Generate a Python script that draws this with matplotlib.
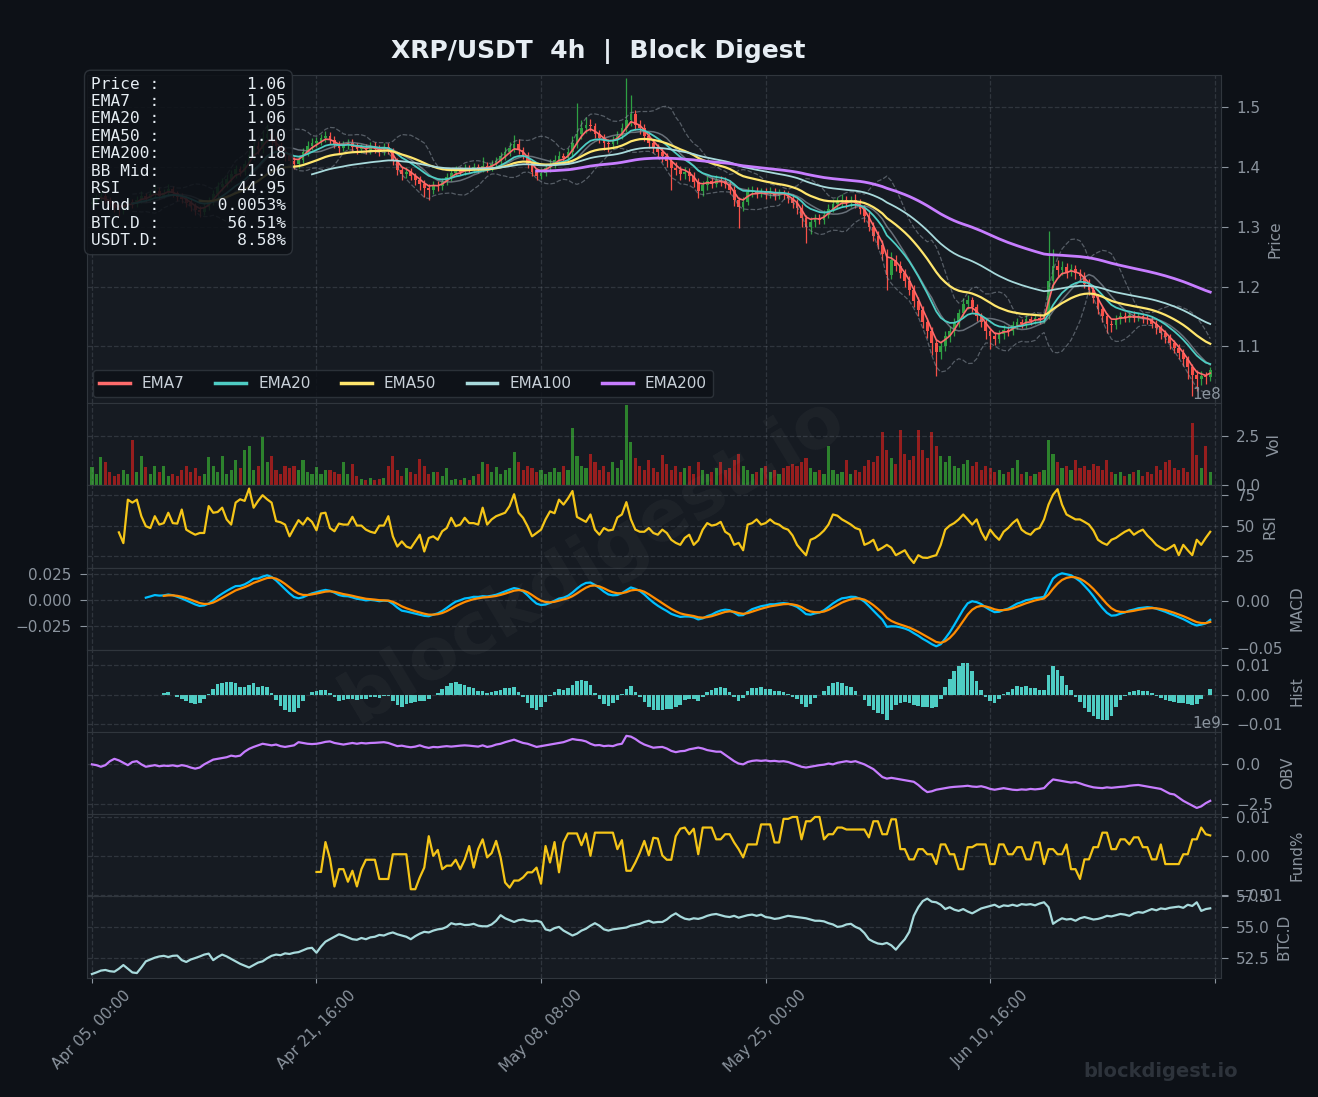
"""
XRP/USDT multi-panel indicator chart (Block Digest style).

Candles were read off the reference at 8h steps, so the indicator periods
are halved to keep the same time windows as the original 4h settings.
"""
import matplotlib
matplotlib.use("Agg")
import matplotlib.pyplot as plt
import numpy as np
import pandas as pd

# ---------------------------------------------------------------- data
START = "2025-04-05 00:00"
STEP = "8h"

close = [
    1.342, 1.348, 1.352, 1.345, 1.338, 1.332, 1.328, 1.335, 1.341, 1.338,
    1.345, 1.352, 1.348, 1.355, 1.360, 1.352, 1.357, 1.363, 1.356, 1.350,
    1.346, 1.340, 1.334, 1.328, 1.325, 1.333, 1.342, 1.355, 1.366, 1.372,
    1.380, 1.388, 1.396, 1.392, 1.405, 1.420, 1.435, 1.430, 1.448, 1.455,
    1.445, 1.435, 1.425, 1.418, 1.410, 1.405, 1.412, 1.425, 1.435, 1.440,
    1.443, 1.448, 1.452, 1.445, 1.438, 1.432, 1.436, 1.440, 1.434, 1.430,
    1.432, 1.428, 1.435, 1.430, 1.426, 1.433, 1.428, 1.410, 1.395, 1.388,
    1.392, 1.385, 1.378, 1.372, 1.365, 1.362, 1.370, 1.368, 1.375, 1.383,
    1.390, 1.395, 1.392, 1.398, 1.395, 1.400, 1.396, 1.402, 1.398, 1.405,
    1.410, 1.418, 1.425, 1.432, 1.438, 1.428, 1.420, 1.405, 1.392, 1.385,
    1.390, 1.398, 1.405, 1.412, 1.418, 1.415, 1.425, 1.440, 1.455, 1.465,
    1.470, 1.468, 1.455, 1.448, 1.440, 1.438, 1.445, 1.452, 1.465, 1.478,
    1.488, 1.470, 1.465, 1.452, 1.440, 1.432, 1.425, 1.418, 1.410, 1.398,
    1.395, 1.388, 1.392, 1.385, 1.375, 1.360, 1.370, 1.376, 1.372, 1.378,
    1.376, 1.372, 1.362, 1.345, 1.333, 1.342, 1.358, 1.360, 1.356, 1.358,
    1.355, 1.358, 1.352, 1.356, 1.355, 1.348, 1.340, 1.332, 1.315, 1.300,
    1.308, 1.315, 1.312, 1.320, 1.330, 1.338, 1.342, 1.345, 1.340, 1.345,
    1.340, 1.330, 1.318, 1.300, 1.285, 1.270, 1.255, 1.220, 1.245, 1.235,
    1.222, 1.210, 1.195, 1.175, 1.160, 1.140, 1.125, 1.105, 1.090, 1.100,
    1.118, 1.125, 1.140, 1.155, 1.170, 1.178, 1.165, 1.150, 1.140, 1.125,
    1.118, 1.112, 1.120, 1.128, 1.125, 1.135, 1.140, 1.138, 1.145, 1.142,
    1.148, 1.145, 1.150, 1.210, 1.235, 1.228, 1.232, 1.225, 1.230, 1.222,
    1.218, 1.205, 1.195, 1.180, 1.162, 1.150, 1.138, 1.135, 1.145, 1.150,
    1.148, 1.152, 1.148, 1.150, 1.146, 1.145, 1.138, 1.130, 1.122, 1.115,
    1.105, 1.098, 1.088, 1.078, 1.065, 1.052, 1.045, 1.050, 1.048, 1.060,
]
high = [
    1.350, 1.355, 1.360, 1.356, 1.349, 1.342, 1.336, 1.342, 1.348, 1.346,
    1.351, 1.360, 1.357, 1.362, 1.369, 1.366, 1.363, 1.371, 1.368, 1.360,
    1.356, 1.351, 1.346, 1.339, 1.334, 1.340, 1.349, 1.362, 1.374, 1.381,
    1.388, 1.395, 1.404, 1.401, 1.412, 1.428, 1.446, 1.444, 1.462, 1.472,
    1.463, 1.452, 1.441, 1.432, 1.425, 1.416, 1.419, 1.431, 1.443, 1.448,
    1.450, 1.455, 1.460, 1.458, 1.451, 1.444, 1.443, 1.447, 1.446, 1.440,
    1.439, 1.438, 1.441, 1.442, 1.436, 1.440, 1.440, 1.432, 1.415, 1.400,
    1.399, 1.398, 1.390, 1.384, 1.378, 1.371, 1.377, 1.376, 1.381, 1.390,
    1.397, 1.402, 1.400, 1.405, 1.404, 1.406, 1.405, 1.417, 1.408, 1.412,
    1.417, 1.425, 1.434, 1.442, 1.453, 1.447, 1.433, 1.425, 1.410, 1.398,
    1.398, 1.405, 1.413, 1.420, 1.426, 1.424, 1.432, 1.452, 1.507, 1.478,
    1.483, 1.480, 1.474, 1.462, 1.455, 1.447, 1.452, 1.460, 1.474, 1.548,
    1.520, 1.495, 1.478, 1.472, 1.458, 1.447, 1.438, 1.432, 1.424, 1.415,
    1.408, 1.402, 1.400, 1.398, 1.391, 1.381, 1.376, 1.385, 1.383, 1.386,
    1.385, 1.383, 1.378, 1.368, 1.350, 1.349, 1.367, 1.368, 1.366, 1.365,
    1.364, 1.366, 1.364, 1.363, 1.362, 1.360, 1.354, 1.346, 1.338, 1.320,
    1.316, 1.322, 1.322, 1.328, 1.338, 1.346, 1.350, 1.354, 1.352, 1.352,
    1.354, 1.346, 1.337, 1.325, 1.308, 1.292, 1.278, 1.262, 1.258, 1.252,
    1.242, 1.230, 1.218, 1.202, 1.183, 1.168, 1.148, 1.132, 1.112, 1.108,
    1.126, 1.134, 1.148, 1.163, 1.180, 1.186, 1.182, 1.170, 1.156, 1.146,
    1.130, 1.124, 1.127, 1.136, 1.134, 1.142, 1.148, 1.146, 1.152, 1.150,
    1.155, 1.154, 1.158, 1.292, 1.262, 1.245, 1.242, 1.240, 1.238, 1.236,
    1.230, 1.224, 1.212, 1.203, 1.188, 1.168, 1.156, 1.144, 1.152, 1.157,
    1.157, 1.158, 1.159, 1.156, 1.156, 1.153, 1.151, 1.144, 1.135, 1.128,
    1.120, 1.111, 1.104, 1.095, 1.083, 1.070, 1.060, 1.058, 1.057, 1.066,
]
low = [
    1.332, 1.337, 1.342, 1.340, 1.333, 1.324, 1.318, 1.322, 1.330, 1.331,
    1.333, 1.340, 1.342, 1.343, 1.350, 1.346, 1.348, 1.352, 1.350, 1.343,
    1.339, 1.333, 1.326, 1.320, 1.316, 1.320, 1.328, 1.337, 1.350, 1.360,
    1.366, 1.374, 1.382, 1.385, 1.386, 1.398, 1.412, 1.422, 1.424, 1.440,
    1.437, 1.428, 1.418, 1.410, 1.401, 1.396, 1.398, 1.406, 1.419, 1.429,
    1.434, 1.437, 1.441, 1.438, 1.431, 1.424, 1.426, 1.430, 1.427, 1.422,
    1.424, 1.421, 1.422, 1.424, 1.419, 1.420, 1.422, 1.404, 1.386, 1.378,
    1.381, 1.378, 1.370, 1.362, 1.350, 1.345, 1.355, 1.359, 1.362, 1.369,
    1.377, 1.384, 1.386, 1.386, 1.389, 1.389, 1.390, 1.391, 1.392, 1.393,
    1.399, 1.404, 1.411, 1.418, 1.425, 1.422, 1.413, 1.398, 1.384, 1.378,
    1.379, 1.384, 1.392, 1.398, 1.405, 1.407, 1.409, 1.418, 1.432, 1.446,
    1.457, 1.460, 1.448, 1.440, 1.428, 1.425, 1.430, 1.438, 1.446, 1.458,
    1.468, 1.462, 1.455, 1.444, 1.432, 1.424, 1.416, 1.408, 1.400, 1.362,
    1.386, 1.378, 1.380, 1.376, 1.366, 1.348, 1.352, 1.362, 1.364, 1.366,
    1.368, 1.364, 1.354, 1.334, 1.298, 1.326, 1.336, 1.350, 1.348, 1.349,
    1.347, 1.348, 1.345, 1.346, 1.347, 1.340, 1.332, 1.322, 1.300, 1.273,
    1.288, 1.300, 1.304, 1.305, 1.314, 1.324, 1.331, 1.335, 1.332, 1.333,
    1.332, 1.322, 1.308, 1.292, 1.276, 1.262, 1.245, 1.195, 1.212, 1.226,
    1.214, 1.200, 1.186, 1.166, 1.150, 1.130, 1.114, 1.085, 1.050, 1.078,
    1.092, 1.108, 1.117, 1.132, 1.147, 1.162, 1.158, 1.142, 1.132, 1.112,
    1.095, 1.103, 1.105, 1.113, 1.117, 1.119, 1.129, 1.130, 1.131, 1.135,
    1.137, 1.138, 1.139, 1.146, 1.198, 1.216, 1.220, 1.215, 1.218, 1.212,
    1.210, 1.198, 1.186, 1.172, 1.154, 1.140, 1.123, 1.124, 1.129, 1.138,
    1.141, 1.141, 1.141, 1.142, 1.139, 1.137, 1.130, 1.121, 1.113, 1.106,
    1.096, 1.089, 1.078, 1.067, 1.045, 1.017, 1.025, 1.036, 1.037, 1.042,
]
first_open = 1.338

# volume in units of 1e8
volume_e8 = [
    0.95, 0.60, 1.44, 1.20, 0.70, 0.50, 0.60, 0.80, 0.60, 2.30,
    0.70, 1.50, 0.95, 0.60, 1.00, 0.70, 1.00, 0.50, 0.60, 0.50,
    0.80, 1.00, 0.70, 0.90, 0.50, 0.60, 1.45, 1.00, 0.70, 1.50,
    0.60, 0.80, 1.30, 0.90, 1.80, 2.00, 0.80, 1.00, 2.45, 1.20,
    1.50, 0.80, 0.60, 1.00, 0.90, 1.00, 0.80, 1.30, 0.70, 0.60,
    0.95, 0.60, 0.80, 0.80, 0.70, 0.60, 1.20, 0.60, 1.10, 0.50,
    0.35, 0.30, 0.40, 0.30, 0.35, 0.40, 1.00, 1.50, 0.80, 0.50,
    0.90, 0.70, 0.60, 1.35, 1.00, 0.60, 0.70, 0.70, 0.50, 0.90,
    0.30, 0.35, 0.30, 0.40, 0.30, 0.50, 0.60, 1.20, 1.10, 0.70,
    0.95, 0.60, 0.80, 0.90, 1.70, 1.20, 0.80, 1.00, 0.90, 0.70,
    0.80, 0.60, 0.70, 0.90, 0.70, 1.00, 0.80, 2.90, 1.50, 1.00,
    0.90, 1.60, 1.20, 0.80, 1.00, 0.70, 1.20, 0.90, 1.30, 4.05,
    2.20, 1.40, 1.00, 0.80, 1.30, 0.90, 0.70, 1.55, 1.10, 0.80,
    1.00, 0.70, 0.90, 1.00, 0.60, 1.20, 0.80, 0.60, 0.70, 0.90,
    1.20, 0.80, 0.90, 1.30, 1.60, 1.00, 0.80, 0.60, 0.70, 0.90,
    1.00, 0.70, 0.80, 0.60, 0.90, 1.00, 1.10, 1.00, 1.20, 1.40,
    0.90, 0.70, 0.80, 0.60, 2.00, 0.80, 0.60, 0.70, 1.30, 0.60,
    0.80, 0.70, 1.00, 1.30, 1.20, 1.50, 2.70, 1.80, 1.40, 1.10,
    2.80, 1.60, 1.30, 1.50, 2.80, 1.80, 1.40, 2.70, 2.00, 1.50,
    1.20, 1.50, 1.00, 0.90, 1.10, 1.30, 1.00, 1.20, 0.80, 1.00,
    0.90, 0.70, 0.80, 0.60, 0.70, 0.90, 1.30, 0.60, 0.70, 0.50,
    0.60, 0.70, 0.80, 2.30, 1.60, 1.20, 0.90, 1.00, 0.80, 1.30,
    0.90, 1.00, 0.80, 1.10, 1.00, 0.80, 1.30, 0.70, 0.60, 0.70,
    0.50, 0.60, 0.70, 0.80, 0.50, 0.70, 0.60, 1.00, 0.80, 1.20,
    1.30, 0.90, 0.80, 0.90, 0.70, 3.15, 1.55, 0.90, 2.00, 0.70,
]

# RSI as plotted, available once the look-back window is filled
rsi_values = [
    44.5, 35.8, 71.0, 68.6,
    71.0, 57.6, 49.5, 48.0, 57.6, 50.8, 52.0, 60.4, 52.0, 51.6,
    63.0, 46.7, 44.5, 42.6, 44.0, 44.0, 65.8, 60.4, 61.0, 64.5,
    55.0, 50.8, 68.6, 71.3, 70.0, 80.0, 64.5, 70.0, 74.6, 71.3,
    68.6, 53.6, 52.7, 50.8, 41.3, 48.0, 54.4, 50.8, 56.3, 53.0,
    46.2, 59.8, 60.4, 48.0, 45.4, 51.6, 50.8, 50.8, 57.1, 50.0,
    50.0, 46.7, 45.0, 44.0, 50.0, 50.0, 57.6, 41.3, 33.0, 37.2,
    33.0, 31.7, 37.2, 42.6, 29.0, 39.9, 41.3, 38.5, 45.4, 48.0,
    56.3, 49.5, 50.8, 56.3, 52.0, 52.0, 50.8, 64.5, 50.8, 55.0,
    57.6, 59.0, 60.4, 65.8, 75.4, 60.4, 56.3, 49.5, 41.3, 44.0,
    46.7, 55.0, 61.5, 60.0, 71.0, 67.0, 72.0, 78.0, 57.0, 55.0,
    53.0, 59.0, 46.7, 42.6, 48.0, 46.0, 46.7, 56.6, 59.0, 69.0,
    55.0, 46.7, 45.0, 45.0, 48.0, 44.0, 42.6, 46.7, 44.0, 38.5,
    36.0, 34.4, 40.0, 42.6, 34.4, 38.0, 46.7, 52.0, 50.0, 50.8,
    53.0, 45.0, 42.6, 34.4, 36.0, 30.0, 50.8, 52.0, 55.0, 50.8,
    52.0, 55.0, 52.0, 50.8, 48.0, 46.7, 42.0, 34.4, 30.0, 26.0,
    38.5, 40.0, 42.6, 46.0, 50.8, 59.0, 58.0, 55.0, 53.0, 50.8,
    48.0, 46.7, 34.4, 36.0, 38.5, 30.0, 32.0, 34.4, 32.0, 26.0,
    28.0, 30.0, 24.0, 19.7, 26.0, 24.0, 23.8, 25.0, 26.0, 34.4,
    46.7, 50.0, 52.0, 55.0, 59.0, 55.0, 50.8, 55.0, 45.0, 38.5,
    46.7, 42.0, 38.5, 45.0, 48.0, 52.0, 55.0, 46.7, 44.0, 42.6,
    46.7, 48.0, 55.0, 67.0, 75.0, 79.5, 67.0, 59.0, 57.0, 55.0,
    55.0, 53.0, 50.8, 46.0, 38.5, 36.0, 34.4, 38.5, 40.0, 42.6,
    45.0, 46.7, 42.6, 45.0, 46.7, 42.0, 38.5, 34.4, 32.0, 30.0,
    32.0, 34.4, 26.0, 34.4, 30.0, 26.0, 38.5, 34.4, 40.0, 44.95,
]

# on-balance volume in units of 1e9
obv_e9 = [
    0.00, -0.05, -0.15, -0.05, 0.20, 0.35, 0.25, 0.10, -0.05, 0.15,
    0.20, 0.00, -0.15, -0.10, -0.05, -0.12, -0.08, -0.10, -0.06, -0.12,
    -0.05, -0.10, -0.20, -0.27, -0.20, 0.00, 0.15, 0.30, 0.35, 0.40,
    0.45, 0.55, 0.50, 0.55, 0.80, 0.98, 1.10, 1.20, 1.30, 1.25,
    1.20, 1.25, 1.15, 1.10, 1.15, 1.20, 1.40, 1.35, 1.30, 1.28,
    1.30, 1.35, 1.42, 1.45, 1.35, 1.30, 1.25, 1.30, 1.35, 1.30,
    1.35, 1.32, 1.35, 1.36, 1.38, 1.40, 1.35, 1.25, 1.15, 1.18,
    1.12, 1.08, 1.12, 1.20, 1.10, 1.04, 1.10, 1.08, 1.12, 1.15,
    1.12, 1.15, 1.18, 1.20, 1.18, 1.15, 1.12, 1.20, 1.10, 1.15,
    1.25, 1.30, 1.40, 1.48, 1.56, 1.45, 1.35, 1.30, 1.20, 1.10,
    1.15, 1.20, 1.25, 1.30, 1.35, 1.40, 1.50, 1.60, 1.55, 1.52,
    1.45, 1.30, 1.20, 1.22, 1.15, 1.18, 1.15, 1.25, 1.30, 1.80,
    1.75, 1.60, 1.40, 1.25, 1.15, 1.05, 1.08, 1.10, 1.00, 0.85,
    0.77, 0.83, 0.85, 0.95, 1.00, 1.06, 1.00, 0.90, 0.85, 0.80,
    0.80, 0.60, 0.40, 0.20, 0.05, 0.00, 0.15, 0.22, 0.25, 0.22,
    0.25, 0.20, 0.22, 0.18, 0.20, 0.15, 0.05, -0.05, -0.15, -0.20,
    -0.15, -0.10, -0.05, -0.02, 0.05, 0.00, 0.10, 0.15, 0.20, 0.15,
    0.20, 0.10, 0.00, -0.15, -0.30, -0.55, -0.80, -0.90, -0.85, -0.90,
    -0.95, -1.00, -1.05, -1.10, -1.30, -1.55, -1.75, -1.70, -1.60, -1.55,
    -1.50, -1.45, -1.42, -1.40, -1.38, -1.35, -1.40, -1.42, -1.38, -1.45,
    -1.55, -1.60, -1.55, -1.50, -1.55, -1.60, -1.62, -1.58, -1.60, -1.55,
    -1.58, -1.55, -1.50, -1.20, -0.95, -1.00, -1.05, -1.10, -1.15, -1.12,
    -1.20, -1.30, -1.38, -1.45, -1.48, -1.50, -1.45, -1.48, -1.45, -1.42,
    -1.40, -1.35, -1.32, -1.30, -1.35, -1.40, -1.45, -1.50, -1.55, -1.70,
    -1.85, -1.90, -2.10, -2.30, -2.45, -2.60, -2.75, -2.65, -2.45, -2.30,
]

# funding rate in %, published from mid-April onwards
funding_pct = [
    -0.0040, -0.0040, 0.0036, -0.0006, -0.0077, -0.0033, -0.0033, -0.0065, -0.0037, -0.0077,
    -0.0033, -0.0009, -0.0009, -0.0009, -0.0058, -0.0058, -0.0058, 0.0005, 0.0005, 0.0005,
    0.0005, -0.0084, -0.0084, -0.0054, -0.0029, 0.0051, 0.0001, 0.0016, -0.0033, -0.0024,
    -0.0024, -0.0009, -0.0033, -0.0009, 0.0026, -0.0029, 0.0018, 0.0043, -0.0003, 0.0008,
    0.0039, -0.0003, -0.0067, -0.0080, -0.0062, -0.0062, -0.0054, -0.0041, -0.0041, -0.0029,
    -0.0070, 0.0026, -0.0016, 0.0036, -0.0041, 0.0035, 0.0058, 0.0058, 0.0058, 0.0028,
    0.0058, 0.0001, 0.0060, 0.0060, 0.0060, 0.0060, 0.0060, 0.0018, 0.0041, -0.0037,
    -0.0037, -0.0016, 0.0009, 0.0039, 0.0002, 0.0047, 0.0045, 0.0002, -0.0009, -0.0009,
    0.0051, 0.0070, 0.0073, 0.0056, 0.0070, 0.0005, 0.0073, 0.0073, 0.0073, 0.0043,
    0.0043, 0.0056, 0.0056, 0.0035, 0.0018, -0.0003, 0.0030, 0.0030, 0.0030, 0.0081,
    0.0081, 0.0081, 0.0035, 0.0035, 0.0095, 0.0095, 0.0100, 0.0100, 0.0043, 0.0089,
    0.0089, 0.0100, 0.0100, 0.0043, 0.0056, 0.0056, 0.0073, 0.0073, 0.0068, 0.0068,
    0.0068, 0.0068, 0.0068, 0.0048, 0.0089, 0.0089, 0.0056, 0.0056, 0.0094, 0.0094,
    0.0018, 0.0018, -0.0008, -0.0008, 0.0018, 0.0018, 0.0005, 0.0005, -0.0020, 0.0030,
    0.0030, 0.0005, 0.0005, -0.0033, -0.0033, 0.0023, 0.0023, 0.0030, 0.0030, 0.0030,
    -0.0020, -0.0020, 0.0030, 0.0030, 0.0005, 0.0005, 0.0023, 0.0023, -0.0008, -0.0008,
    0.0035, 0.0035, -0.0020, 0.0018, 0.0018, 0.0005, 0.0005, 0.0030, -0.0033, -0.0033,
    -0.0058, -0.0008, -0.0008, 0.0023, 0.0023, 0.0060, 0.0060, 0.0018, 0.0018, 0.0043,
    0.0043, 0.0030, 0.0048, 0.0048, 0.0023, 0.0023, -0.0008, -0.0008, 0.0030, -0.0020,
    -0.0020, -0.0020, -0.0020, 0.0005, 0.0005, 0.0043, 0.0043, 0.0073, 0.0056, 0.0053,
]

btc_dominance = [
    51.17, 51.30, 51.45, 51.50, 51.40, 51.36, 51.60, 51.90, 51.60, 51.30,
    51.25, 51.70, 52.20, 52.35, 52.50, 52.60, 52.65, 52.55, 52.65, 52.67,
    52.30, 52.15, 52.35, 52.47, 52.60, 52.75, 52.83, 52.30, 52.55, 52.75,
    52.60, 52.40, 52.20, 52.00, 51.85, 51.70, 51.90, 52.10, 52.20, 52.45,
    52.65, 52.75, 52.70, 52.85, 52.80, 52.90, 52.95, 53.10, 53.25, 53.30,
    52.90, 53.40, 53.80, 54.00, 54.20, 54.40, 54.30, 54.15, 54.00, 53.95,
    54.10, 54.00, 54.15, 54.20, 54.35, 54.30, 54.45, 54.55, 54.40, 54.30,
    54.20, 54.00, 54.25, 54.45, 54.60, 54.55, 54.70, 54.80, 54.85, 55.00,
    55.30, 55.20, 55.25, 55.15, 55.17, 55.25, 55.10, 55.05, 55.05, 55.20,
    55.50, 55.95, 55.70, 55.55, 55.40, 55.55, 55.60, 55.50, 55.45, 55.50,
    55.40, 54.80, 54.70, 54.90, 55.00, 54.70, 54.50, 54.30, 54.45, 54.70,
    54.85, 55.10, 55.30, 55.10, 54.80, 54.70, 54.80, 54.85, 54.90, 54.95,
    55.10, 55.17, 55.25, 55.40, 55.50, 55.35, 55.40, 55.40, 55.60, 55.90,
    56.10, 55.85, 55.67, 55.60, 55.70, 55.65, 55.75, 55.90, 56.00, 56.05,
    55.95, 55.85, 55.80, 55.90, 55.75, 55.85, 55.95, 56.00, 55.90, 56.00,
    55.80, 55.75, 55.65, 55.70, 55.80, 55.90, 55.85, 55.80, 55.75, 55.70,
    55.60, 55.50, 55.50, 55.45, 55.30, 55.20, 55.00, 55.05, 55.20, 55.25,
    55.00, 54.85, 54.50, 54.00, 53.80, 53.65, 53.60, 53.70, 53.50, 53.15,
    53.60, 54.00, 54.60, 55.90, 56.60, 57.10, 57.30, 57.05, 57.00, 56.80,
    56.45, 56.60, 56.40, 56.30, 56.45, 56.25, 56.10, 56.30, 56.50, 56.60,
    56.70, 56.80, 56.60, 56.75, 56.70, 56.80, 56.70, 56.85, 56.80, 56.85,
    56.75, 56.90, 57.00, 56.60, 55.25, 55.50, 55.70, 55.60, 55.65, 55.50,
    55.70, 55.80, 55.70, 55.60, 55.65, 55.75, 55.90, 55.85, 55.95, 56.05,
    56.00, 55.90, 56.10, 56.20, 56.15, 56.30, 56.45, 56.35, 56.50, 56.45,
    56.55, 56.60, 56.65, 56.55, 56.80, 56.70, 57.00, 56.30, 56.45, 56.51,
]

# snapshot box shown in the top-left corner
snapshot = [
    ("Price", "1.06"),
    ("EMA7", "1.05"),
    ("EMA20", "1.06"),
    ("EMA50", "1.10"),
    ("EMA200", "1.18"),
    ("BB Mid", "1.06"),
    ("RSI", "44.95"),
    ("Fund", "0.0053%"),
    ("BTC.D", "56.51%"),
    ("USDT.D", "8.58%"),
]

# ---------------------------------------------------------------- style
BG = "#0d1117"
PANEL = "#161b22"
EDGE = "#30363d"
MUTED = "#8b949e"
TEXT = "#e6edf3"
UP, DOWN = "#2ea043", "#f85149"
VOL_UP, VOL_DOWN = "#2d822d", "#961e1e"

EMA_STYLE = [
    ("EMA7", 3.5, "#ff6b6b", 1.2),
    ("EMA20", 10, "#4ecdc4", 1.3),
    ("EMA50", 25, "#ffe66d", 1.6),
    ("EMA100", 50, "#a8dadc", 1.3),
    ("EMA200", 100, "#c77dff", 2.0),
]


def style_panel(ax, ylabel):
    ax.set_facecolor(PANEL)
    for spine in ax.spines.values():
        spine.set_color(EDGE)
    ax.yaxis.tick_right()
    ax.yaxis.set_label_position("right")
    ax.tick_params(colors=MUTED, labelsize=11)
    ax.tick_params(axis="y", length=5, pad=6)
    ax.yaxis.get_offset_text().set_color(MUTED)
    ax.yaxis.get_offset_text().set_fontsize(11)
    ax.set_ylabel(ylabel, color=MUTED, fontsize=11, labelpad=5)
    ax.grid(True, linestyle="--", color=MUTED, alpha=0.22, linewidth=0.9)


def main():
    c = pd.Series(close)
    o = c.shift(1).fillna(first_open)
    h = np.array(high)
    lo = np.array(low)
    n = len(c)
    x = np.arange(n)
    up = (c >= o).to_numpy()
    dates = pd.date_range(START, periods=n + 1, freq=STEP)

    emas = {name: c.ewm(span=span, adjust=False, min_periods=int(span)).mean()
            for name, span, _, _ in EMA_STYLE}
    bb_mid = c.rolling(10).mean()
    bb_std = c.rolling(10).std()

    macd = (c.ewm(span=6, adjust=False, min_periods=6).mean()
            - c.ewm(span=13, adjust=False, min_periods=13).mean())
    signal = macd.ewm(span=4.5, adjust=False, min_periods=5).mean()
    hist = macd - signal

    plt.rcParams["font.family"] = ["DejaVu Sans"]
    fig = plt.figure(figsize=(13.18, 10.97), dpi=100, facecolor=BG)
    gs = fig.add_gridspec(8, 1, height_ratios=[4, 1, 1, 1, 1, 1, 1, 1], hspace=0,
                          left=0.066, right=0.9264, top=0.9316, bottom=0.1085)
    axes = [fig.add_subplot(gs[0])]
    for i in range(1, 8):
        axes.append(fig.add_subplot(gs[i], sharex=axes[0]))
    ax_p, ax_v, ax_r, ax_m, ax_h, ax_o, ax_f, ax_b = axes

    for ax, lab in zip(axes, ["Price", "Vol", "RSI", "MACD", "Hist", "OBV", "Fund%", "BTC.D"]):
        style_panel(ax, lab)

    # price panel
    ax_p.vlines(x, lo, h, colors=np.where(up, UP, DOWN), linewidth=0.9, zorder=2)
    body_lo = np.minimum(o, c)
    body_h = np.maximum(np.abs(c - o), 0.0015)
    ax_p.bar(x, body_h, bottom=body_lo, width=0.6,
             color=np.where(up, UP, DOWN), zorder=3)
    ax_p.plot(x, bb_mid + 2 * bb_std, color=MUTED, ls="--", lw=0.9, alpha=0.55, zorder=4)
    ax_p.plot(x, bb_mid - 2 * bb_std, color=MUTED, ls="--", lw=0.9, alpha=0.55, zorder=4)
    ax_p.plot(x, bb_mid, color=MUTED, lw=1.1, alpha=0.7, zorder=4)
    for name, _, col, lw in EMA_STYLE:
        ax_p.plot(x, emas[name], color=col, lw=lw, label=name, zorder=5)
    ax_p.set_ylim(1.0046, 1.5536)
    ax_p.set_yticks([1.1, 1.2, 1.3, 1.4, 1.5])
    leg = ax_p.legend(loc="lower left", ncol=5, fontsize=11, facecolor=BG,
                      edgecolor=EDGE, framealpha=0.85, labelcolor="#c9d1d9",
                      columnspacing=2.0, borderaxespad=0.4)
    for handle in leg.get_lines():
        handle.set_linewidth(2.5)
    leg.set_zorder(8)

    lines = [f"{k:<6}:{v:>13}" for k, v in snapshot]
    ax_p.text(0.0035, 0.995, "\n".join(lines), transform=ax_p.transAxes,
              ha="left", va="top", family="DejaVu Sans Mono", fontsize=11.6,
              color=TEXT, linespacing=1.2, zorder=10,
              bbox=dict(boxstyle="round,pad=0.4", facecolor=BG, edgecolor=EDGE, alpha=0.88))

    # volume
    vol = np.array(volume_e8) * 1e8
    ax_v.bar(x, vol, width=0.7, color=np.where(up, VOL_UP, VOL_DOWN))
    ax_v.set_ylim(0, 4.15e8)
    ax_v.set_yticks([0, 2.5e8])

    # RSI
    xr = np.arange(n - len(rsi_values), n)
    ax_r.plot(xr, rsi_values, color="#f5c518", lw=1.6)
    ax_r.set_ylim(16, 82.5)
    ax_r.set_yticks([25, 50, 75])

    # MACD: left scale carries the lines, right scale mirrors the panel
    ax_m.yaxis.tick_left()
    ax_m.plot(x, macd, color="#00bfff", lw=1.6)
    ax_m.plot(x, signal, color="#ff8c00", lw=1.6)
    ax_m.set_ylim(-0.048, 0.031)
    ax_m.set_yticks([-0.025, 0.0, 0.025])
    ax_m.set_ylabel("")
    ax_m2 = ax_m.twinx()
    ax_m2.set_ylim(-0.052, 0.035)
    ax_m2.set_yticks([-0.05, 0.0])
    ax_m2.tick_params(colors=MUTED, labelsize=11, length=5, pad=6)
    for spine in ax_m2.spines.values():
        spine.set_color(EDGE)
    ax_m2.set_ylabel("MACD", color=MUTED, fontsize=11, labelpad=5)

    # histogram
    ax_h.bar(x, hist, width=0.8, color="#4ecdc4")
    ax_h.set_ylim(-0.0125, 0.0153)
    ax_h.set_yticks([-0.01, 0.0, 0.01])

    # OBV
    ax_o.plot(x, np.array(obv_e9) * 1e9, color="#c77dff", lw=1.6)
    ax_o.set_ylim(-3.12e9, 2.06e9)
    ax_o.set_yticks([-2.5e9, 0])

    # funding
    xf = np.arange(n - len(funding_pct), n)
    ax_f.plot(xf, funding_pct, color="#f5c518", lw=1.6)
    ax_f.set_ylim(-0.0101, 0.0108)
    ax_f.set_yticks([-0.01, 0.0, 0.01])

    # BTC dominance
    ax_b.plot(x, btc_dominance, color="#a8dadc", lw=1.6)
    ax_b.set_ylim(50.85, 57.52)
    ax_b.set_yticks([52.5, 55.0, 57.5])

    # shared x axis
    ticks = np.arange(0, n + 1, 50)
    labels = [dates[t].strftime("%b %d, %H:%M") if t < n else "" for t in ticks]
    ax_b.set_xlim(-1.1, n + 1.4)
    ax_b.set_xticks(ticks)
    ax_b.set_xticklabels(labels, rotation=45, ha="center", fontsize=11, color=MUTED)
    for ax in axes[:-1]:
        ax.tick_params(axis="x", labelbottom=False, length=0)

    fig.text(0.454, 0.953, "XRP/USDT  4h  |  Block Digest", ha="center", va="center",
             fontsize=18, fontweight="bold", color=TEXT)
    fig.text(0.45, 0.49, "blockdigest.io", rotation=31, ha="center", va="center",
             fontsize=52, fontweight="bold", color="white", alpha=0.035)
    fig.text(0.939, 0.0237, "blockdigest.io", ha="right", va="center",
             fontsize=14, fontweight="bold", color="#2d333b")

    fig.savefig("out.png", dpi=100, facecolor=BG)
    plt.close(fig)


if __name__ == "__main__":
    main()
